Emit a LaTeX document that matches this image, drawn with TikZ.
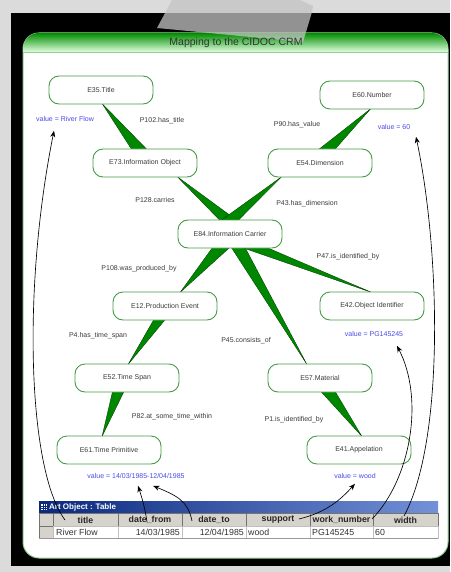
\documentclass[tikz,border=0pt]{standalone}
\usepackage{fontspec}
\setmainfont{Liberation Sans}
\usetikzlibrary{arrows.meta,calc,shadings}
\definecolor{nodegreen}{RGB}{70,155,70}
\definecolor{wedgegreen}{RGB}{0,135,0}
\definecolor{valblue}{RGB}{75,75,230}
\definecolor{labgray}{RGB}{60,60,60}
\definecolor{panelgreen}{RGB}{150,205,150}
\definecolor{tabblueA}{RGB}{10,40,125}
\definecolor{tabblueB}{RGB}{115,145,215}
\definecolor{hdrgray}{RGB}{214,211,204}
\definecolor{tapegray}{RGB}{195,195,195}
\pgfdeclarelayer{back}
\pgfdeclarelayer{mid}
\pgfdeclarelayer{front}
\pgfsetlayers{back,mid,main,front}
\begin{document}
\begin{tikzpicture}[x=1pt,y=-1pt,
  ent/.style={draw=nodegreen, line width=0.9pt, fill=white, rounded corners=10pt,
    minimum width=104pt, minimum height=28pt, inner sep=0pt,
    font=\fontsize{7}{8}\selectfont, text=labgray},
  prop/.style={font=\fontsize{7}{8}\selectfont, text=labgray, inner sep=0pt},
  val/.style={font=\fontsize{7}{8}\selectfont, text=valblue, inner sep=0pt},
  wedge/.style={fill=wedgegreen, draw=green!20!black, line width=0.3pt, line join=round},
  ptr/.style={-{Stealth[length=6.5pt,width=5pt]}, line width=0.65pt, black},
  hdr/.style={font=\bfseries\fontsize{8.8}{10}\selectfont, inner sep=0pt, text=black!85},
  dat/.style={font=\fontsize{8.8}{10}\selectfont, inner sep=0pt, text=black!80},
  cell/.style={fill=hdrgray, draw=black!55, line width=0.5pt},
  dcell/.style={fill=white, draw=black!25, line width=0.5pt},
]
\useasboundingbox (0,0) rectangle (450,572);
\begin{pgfonlayer}{back}
  \fill[black!14] (0,0) rectangle (450,572);
  \fill[black] (11,13) rectangle (450,566);
  \fill[white, draw=panelgreen, line width=1pt, rounded corners=16pt] (23,33) rectangle (448,558);
  \begin{scope}
    \clip[rounded corners=16pt] (23,33) rectangle (448,558);
    \shade[top color=green!55!black, bottom color=green!12] (23,33) rectangle (448,52);
  \end{scope}
  \draw[panelgreen, line width=0.8pt] (23,52) -- (448,52);
\end{pgfonlayer}

% entities
\node[ent] (e35) at (101,90) {E35.Title};
\node[ent] (e60) at (372,95) {E60.Number};
\node[ent] (e73) at (145,163) {E73.Information Object};
\node[ent] (e54) at (320,163) {E54.Dimension};
\node[ent] (e84) at (230,234) {E84.Information Carrier};
\node[ent] (e12) at (165,306) {E12.Production Event};
\node[ent] (e42) at (372,306) {E42.Object Identifier};
\node[ent] (e52) at (127,378) {E52.Time Span};
\node[ent] (e57) at (320,378) {E57.Material};
\node[ent] (e61) at (109,450) {E61.Time Primitive};
\node[ent] (e41) at (359,450) {E41.Appelation};

% wedges
\begin{pgfonlayer}{mid}
  \filldraw[wedge] ($(e35.south)+(1,-1)$) -- ($(e73.north)+(-12,3)$) -- ($(e73.north)+(4,3)$) -- cycle;
  \filldraw[wedge] ($(e60.south)+(-1,-1)$) -- ($(e54.north)+(-4,3)$) -- ($(e54.north)+(13,3)$) -- cycle;
  \filldraw[wedge] ($(e73.south)+(32,-1)$) -- ($(e84.north)+(-8,3)$) -- ($(e84.north)+(10,3)$) -- cycle;
  \filldraw[wedge] ($(e54.south)+(-38,-1)$) -- ($(e84.north)+(-12,3)$) -- ($(e84.north)+(6,3)$) -- cycle;
  \filldraw[wedge] ($(e12.north)+(15,1)$) -- ($(e84.south)+(-16,-3)$) -- ($(e84.south)+(2,-3)$) -- cycle;
  \filldraw[wedge] ($(e57.north)+(-13,1)$) -- ($(e84.south)+(0,-3)$) -- ($(e84.south)+(14,-3)$) -- cycle;
  \filldraw[wedge] ($(e42.north)+(0,1)$) -- ($(e84.south)+(6,-3)$) -- ($(e84.south)+(32,-3)$) -- cycle;
  \filldraw[wedge] ($(e52.north)+(1,1)$) -- ($(e12.south)+(-10,-3)$) -- ($(e12.south)+(2,-3)$) -- cycle;
  \filldraw[wedge] ($(e61.north)+(-7,1)$) -- ($(e52.south)+(-14,-3)$) -- ($(e52.south)+(-2,-3)$) -- cycle;
  \filldraw[wedge] ($(e41.north)+(3,1)$) -- ($(e57.south)+(-1,-3)$) -- ($(e57.south)+(14,-3)$) -- cycle;
\end{pgfonlayer}

% property labels
\node[prop] (p102) at (162,121) {P102.has\_title};
\node[prop] (p90) at (297,125) {P90.has\_value};
\node[prop] (p128) at (155,200) {P128.carries};
\node[prop] (p43) at (307,204) {P43.has\_dimension};
\node[prop] (p47) at (348,257) {P47.is\_identified\_by};
\node[prop] (p108) at (139,269) {P108.was\_produced\_by};
\node[prop] (p4) at (98,336) {P4.has\_time\_span};
\node[prop] (p45) at (246,341) {P45.consists\_of};
\node[prop] (p82) at (172,417) {P82.at\_some\_time\_within};
\node[prop] (p1) at (294,420) {P1.is\_identified\_by};

% values
\node[val] (vtitle) at (65,119) {value = River Flow};
\node[val] (vnum) at (394,127) {value = 60};
\node[val] (vid) at (374,334) {value = PG145245};
\node[val] (vdate) at (136,476) {value = 14/03/1985-12/04/1985};
\node[val] (vwood) at (355,476) {value = wood};

% table
\shade[left color=tabblueA, right color=tabblueB] (39,501) rectangle (438,513);
\fill[white] (41,504) rectangle (47,510);
\draw[tabblueA, line width=0.5pt] (41,506) -- (47,506) (41,508) -- (47,508) (43,504) -- (43,510) (45,504) -- (45,510);
\node[font=\bfseries\fontsize{8}{9}\selectfont, text=white, anchor=west, inner sep=0pt] (tabtitle) at (49,507) {Art Object : Table};
\foreach \a/\b in {39/53,53/118,118/182,182/246,246/310,310/373,373/438}
  \draw[cell] (\a,513) rectangle (\b,526);
\draw[cell] (39,526) rectangle (53,538);
\foreach \a/\b in {53/118,118/182,182/246,246/310,310/373,373/438}
  \draw[dcell] (\a,526) rectangle (\b,538);
\draw[black!40, line width=0.5pt] (39,538) -- (438,538);

\node[hdr] (hTitle) at (85.5,520) {title};
\node[hdr] (hFrom) at (150,520) {date\_from};
\node[hdr] (hTo) at (214,520) {date\_to};
\node[hdr] (hSup) at (278,520) {support};
\node[hdr] (hWork) at (341.5,520) {work\_number};
\node[hdr] (hWidth) at (405.5,520) {width};

\node[dat, anchor=west] (dTitle) at (56,532.5) {River Flow};
\node[dat, anchor=east] (dFrom) at (180,532.5) {14/03/1985};
\node[dat, anchor=east] (dTo) at (244,532.5) {12/04/1985};
\node[dat, anchor=west] (dSup) at (248,532.5) {wood};
\node[dat, anchor=west] (dWork) at (312,532.5) {PG145245};
\node[dat, anchor=west] (dWidth) at (375,532.5) {60};

% arrows
\coordinate (sTitle) at (65,520);
\coordinate (sFrom) at (147,522);
\coordinate (sTo) at (192,521);
\coordinate (sSup) at (299,519);
\coordinate (sWork) at (372,519);
\coordinate (sWidth) at (404,516);
\draw[ptr] (sTitle) .. controls (28,470) and (22,290) .. ($(vtitle.south)+(-11,9)$);
\draw[ptr] (sFrom) .. controls (145,508) and (142,498) .. ($(vdate.south)+(2,7)$);
\draw[ptr] (sTo) .. controls (188,500) and (175,495) .. ($(vdate.south)+(17,7)$);
\draw[ptr] (sSup) .. controls (328,512) and (342,498) .. ($(vwood.south)+(0,5)$);
\draw[ptr] (sWork) .. controls (410,480) and (425,400) .. ($(vid.south)+(23,9)$);
\draw[ptr] (sWidth) .. controls (445,440) and (440,250) .. ($(vnum.south)+(22,7)$);

% tape (drawn over the frame, under the title text)
\fill[tapegray, fill opacity=0.75] (172,0) -- (300,0) -- (313,6) -- (312,12) -- (303,42) -- (157,28) -- cycle;

\begin{pgfonlayer}{front}
  \node[font=\fontsize{10.5}{12}\selectfont, text=black!80] (title) at (236,43) {Mapping to the CIDOC CRM};
\end{pgfonlayer}
\end{tikzpicture}
\end{document}
